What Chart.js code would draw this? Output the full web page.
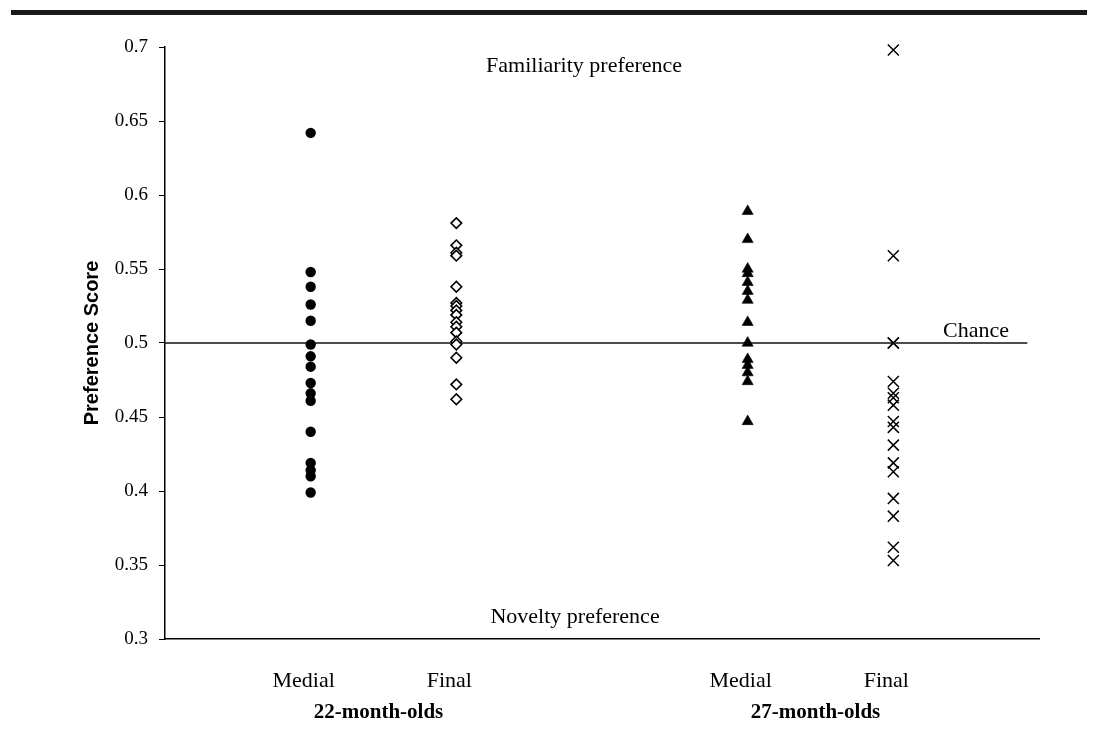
<!DOCTYPE html>
<html>
<head>
<meta charset="utf-8">
<title>Preference Score</title>
<script src="https://cdn.jsdelivr.net/npm/chart.js@4.4.1/dist/chart.umd.min.js"></script>
<style>
  html, body { margin: 0; padding: 0; background: #fff; }
  #wrap { position: relative; width: 1097px; height: 742px; }
</style>
</head>
<body>
<div id="wrap"><canvas id="prefChart"></canvas></div>
<script>
// datos
const CATEGORIES = ['Medial', 'Final', 'Medial', 'Final'];
const CATEGORY_POS = [1, 2, 4, 5];          // posicion de cada columna en el eje x (0-6)
const GROUPS = ['22-month-olds', '27-month-olds'];
const GROUP_POS = [1.5, 4.5];

const Y_MIN = 0.3;
const Y_MAX = 0.7;
const Y_STEP = 0.05;

const MEDIAL_22 = [0.642, 0.548, 0.538, 0.526, 0.515, 0.499, 0.491, 0.484, 0.473, 0.466, 0.461, 0.440, 0.419, 0.414, 0.410, 0.399];
const FINAL_22  = [0.581, 0.566, 0.561, 0.559, 0.538, 0.527, 0.525, 0.522, 0.519, 0.514, 0.511, 0.507, 0.501, 0.499, 0.490, 0.472, 0.462];
const MEDIAL_27 = [0.589, 0.570, 0.550, 0.547, 0.541, 0.535, 0.529, 0.514, 0.500, 0.489, 0.485, 0.480, 0.474, 0.447];
const FINAL_27  = [0.698, 0.559, 0.500, 0.500, 0.474, 0.466, 0.463, 0.458, 0.447, 0.443, 0.431, 0.419, 0.413, 0.395, 0.383, 0.362, 0.353];

const CHANCE = 0.5;
const CHANCE_END = 5.92;   // la linea termina un poco antes del final del eje

const SERIF = '"Liberation Serif", "Times New Roman", serif';
const SANS = '"Liberation Sans", Arial, sans-serif';

function toPoints(values, xPos) {
  return values.map(v => ({ x: xPos, y: v }));
}

// textos sueltos + barra superior
const notesPlugin = {
  id: 'notes',
  beforeDraw(chart) {
    const ctx = chart.ctx;
    ctx.save();
    ctx.fillStyle = '#1a1a1a';
    ctx.fillRect(11, 10, 1076, 5);
    ctx.restore();
  },
  afterDraw(chart) {
    const { ctx, chartArea, scales: { x, y } } = chart;
    ctx.save();
    ctx.fillStyle = '#000';
    ctx.textBaseline = 'middle';

    ctx.font = '22px ' + SERIF;
    ctx.textAlign = 'center';
    ctx.fillText('Familiarity preference', x.getPixelForValue(2.877), y.getPixelForValue(0.687));
    ctx.fillText('Novelty preference', x.getPixelForValue(2.815), y.getPixelForValue(0.3146));

    ctx.textAlign = 'left';
    ctx.fillText('Chance', x.getPixelForValue(5.341), y.getPixelForValue(0.508));

    ctx.font = 'bold 21px ' + SERIF;
    ctx.textAlign = 'center';
    GROUPS.forEach((g, i) => {
      ctx.fillText(g, x.getPixelForValue(GROUP_POS[i]) - 5, chartArea.bottom + 74);
    });
    ctx.restore();
  }
};

function main() {
  const ctx = document.getElementById('prefChart').getContext('2d');
  const markerBase = { showLine: false, borderColor: '#000', order: 0, clip: false };

  new Chart(ctx, {
    type: 'scatter',
    data: {
      datasets: [
        Object.assign({ label: '22 Medial', data: toPoints(MEDIAL_22, CATEGORY_POS[0]),
          pointStyle: 'circle', pointRadius: 5.2, backgroundColor: '#000', borderWidth: 0 }, markerBase),
        Object.assign({ label: '22 Final', data: toPoints(FINAL_22, CATEGORY_POS[1]),
          pointStyle: 'rectRot', pointRadius: 5.3, backgroundColor: '#fff', borderWidth: 1.6 }, markerBase),
        Object.assign({ label: '27 Medial', data: toPoints(MEDIAL_27, CATEGORY_POS[2]),
          pointStyle: 'triangle', pointRadius: 6.4, backgroundColor: '#000', borderWidth: 0.6 }, markerBase),
        Object.assign({ label: '27 Final', data: toPoints(FINAL_27, CATEGORY_POS[3]),
          pointStyle: 'crossRot', pointRadius: 7.8, backgroundColor: '#000', borderWidth: 1.5 }, markerBase),
        {
          type: 'line',
          label: 'Chance',
          data: [{ x: 0, y: CHANCE }, { x: CHANCE_END, y: CHANCE }],
          borderColor: '#111',
          borderWidth: 1.6,
          pointRadius: 0,
          fill: false,
          order: 10
        }
      ]
    },
    plugins: [notesPlugin],
    options: {
      responsive: true,
      maintainAspectRatio: false,
      animation: false,
      events: [],
      layout: { padding: { top: 47, right: 58, left: 0, bottom: 0 } },
      plugins: {
        legend: { display: false },
        tooltip: { enabled: false }
      },
      scales: {
        x: {
          type: 'linear',
          min: 0,
          max: 6,
          grid: { display: false },
          border: { display: true, color: '#000', width: 1.5 },
          afterBuildTicks: axis => { axis.ticks = CATEGORY_POS.map(v => ({ value: v })); },
          afterFit: axis => { axis.height = 103; },
          ticks: {
            autoSkip: false,
            maxRotation: 0,
            padding: 21,
            labelOffset: -7,
            color: '#000',
            font: { family: SERIF, size: 22 },
            callback: (v, i) => CATEGORIES[i]
          }
        },
        y: {
          min: Y_MIN,
          max: Y_MAX,
          grid: { display: true, drawOnChartArea: false, drawTicks: true, tickLength: 6, color: '#000', lineWidth: 1 },
          border: { display: true, color: '#000', width: 1.5 },
          afterFit: axis => { axis.width = 165; },
          title: {
            display: true,
            text: 'Preference Score',
            color: '#000',
            font: { family: SANS, size: 20, weight: 'bold' },
            padding: { top: 80, bottom: 0 }
          },
          ticks: {
            stepSize: Y_STEP,
            padding: 11,
            color: '#000',
            font: { family: SERIF, size: 19 },
            callback: v => String(+v.toFixed(2))
          }
        }
      }
    }
  });
}

if (document.readyState === 'complete' || document.readyState === 'interactive') main();
else document.addEventListener('DOMContentLoaded', main);
</script>
</body>
</html>
